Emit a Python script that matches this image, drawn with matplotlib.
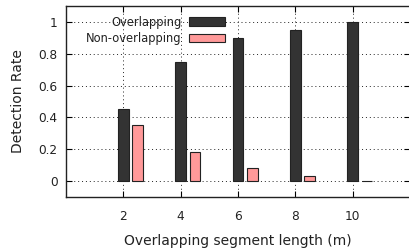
import numpy as np
import matplotlib.pyplot as plt
from matplotlib.patches import Patch

# segment length (m)
seg_len = [2, 4, 6, 8, 10]
overlapping = [0.45, 0.75, 0.90, 0.95, 1.00]
non_overlapping = [0.35, 0.18, 0.08, 0.03, 0.00]

ytick_vals = [0, 0.2, 0.4, 0.6, 0.8, 1]
ytick_labels = ["0", "0.2", "0.4", "0.6", "0.8", "1"]

plt.rcParams['font.family'] = ['DejaVu Sans']

fig = plt.figure(figsize=(4.09, 2.48), dpi=100)
ax = fig.add_axes([66/409, 1 - 197/248, 1 - 66/409 + 0.002, 191/248])

x = np.array(seg_len, dtype=float)
w = 0.37
ax.bar(x, overlapping, width=w, color='#333333', edgecolor='#222222',
       linewidth=0.8, zorder=3, label='Overlapping')
ax.bar(x + 0.5, non_overlapping, width=w, color='#ff9999', edgecolor='#222222',
       linewidth=0.8, zorder=3, label='Non-overlapping')

ax.set_xlim(0, 12)
ax.set_ylim(-0.1, 1.1)
ax.set_xticks(seg_len)
ax.set_xticklabels([str(v) for v in seg_len])
ax.set_yticks(ytick_vals)
ax.set_yticklabels(ytick_labels)

ax.grid(True, color='#222222', linestyle=(0, (1, 3)), linewidth=0.7, zorder=1)
ax.tick_params(direction='in', length=4, width=0.8, top=True, right=True,
               colors='black', labelcolor='#222222', labelsize=8.7)
ax.tick_params(axis='x', pad=9)
ax.tick_params(axis='y', pad=6)
for s in ax.spines.values():
    s.set_linewidth(1.0)
    s.set_color('#222222')

ax.set_xlabel('Overlapping segment length (m)', fontsize=10, labelpad=8, color='#222222')
ax.set_ylabel('Detection Rate', fontsize=10, labelpad=10, color='#222222')

handles = [Patch(facecolor='#333333', edgecolor='#222222', linewidth=0.8),
           Patch(facecolor='#ff9999', edgecolor='#222222', linewidth=0.8)]
leg = ax.legend(handles, ['Overlapping', 'Non-overlapping'], loc='upper right',
                bbox_to_anchor=(0.461, 0.95), markerfirst=False, frameon=False,
                fontsize=8.3, handlelength=3.1, handleheight=0.7, labelspacing=0.3,
                handletextpad=0.6, borderaxespad=0, borderpad=0)
for t in leg.get_texts():
    t.set_color('#222222')

fig.savefig('out.png', dpi=100)
